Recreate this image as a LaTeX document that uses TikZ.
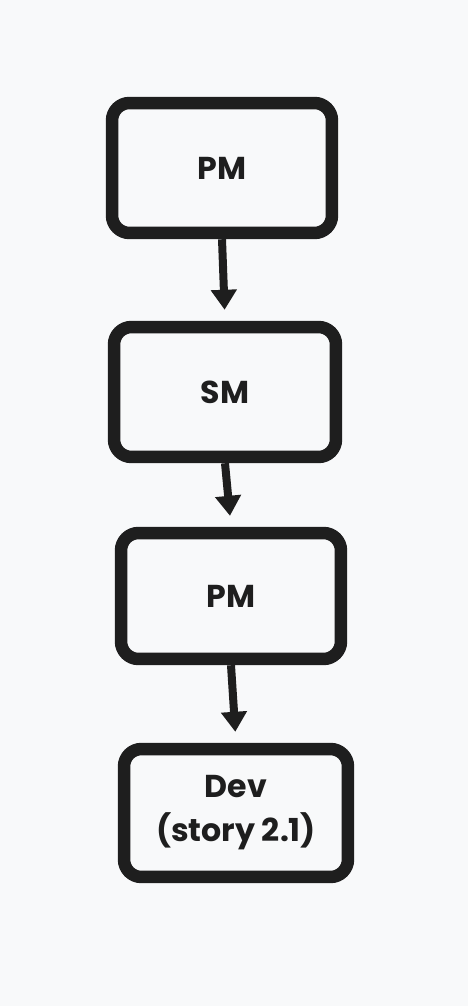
\documentclass[tikz,border=0pt]{standalone}
\usepackage{fontspec}
\setmainfont{Poppins}
\usetikzlibrary{arrows.meta}

\definecolor{inkcol}{HTML}{1E1E1E}
\definecolor{bgcol}{HTML}{F8F9FA}

\tikzset{
	stagebox/.style={draw=inkcol, line width=0.25cm, rounded corners=0.35cm, fill=bgcol,
		minimum width=4.4cm, minimum height=2.6cm, align=center, text=inkcol,
		font=\fontsize{18}{25}\selectfont\bfseries},
	handoff/.style={draw=inkcol, line width=0.16cm, -{Triangle[width=0.5cm,length=0.4cm]}, shorten >=0.22cm}
}

\begin{document}
\begin{tikzpicture}[x=0.02cm, y=-0.02cm]
	% canvas
	\fill [bgcol] (0,0) rectangle (468,1006);

	% stages
	\node [stagebox] (pmfirst) at (222,168) {PM};
	\node [stagebox, minimum width=4.44cm] (sm) at (225,392) {SM};
	\node [stagebox, minimum height=2.52cm] (pmsecond) at (231,596) {PM};
	\node [stagebox, minimum width=4.48cm, minimum height=2.56cm] (dev) at (236,813) {Dev\\(story 2.1)};

	% handoffs
	\draw [handoff] (pmfirst.south) -- (sm.north);
	\draw [handoff] (sm.south) -- (pmsecond.north);
	\draw [handoff] (pmsecond.south) -- (dev.north);
\end{tikzpicture}
\end{document}
